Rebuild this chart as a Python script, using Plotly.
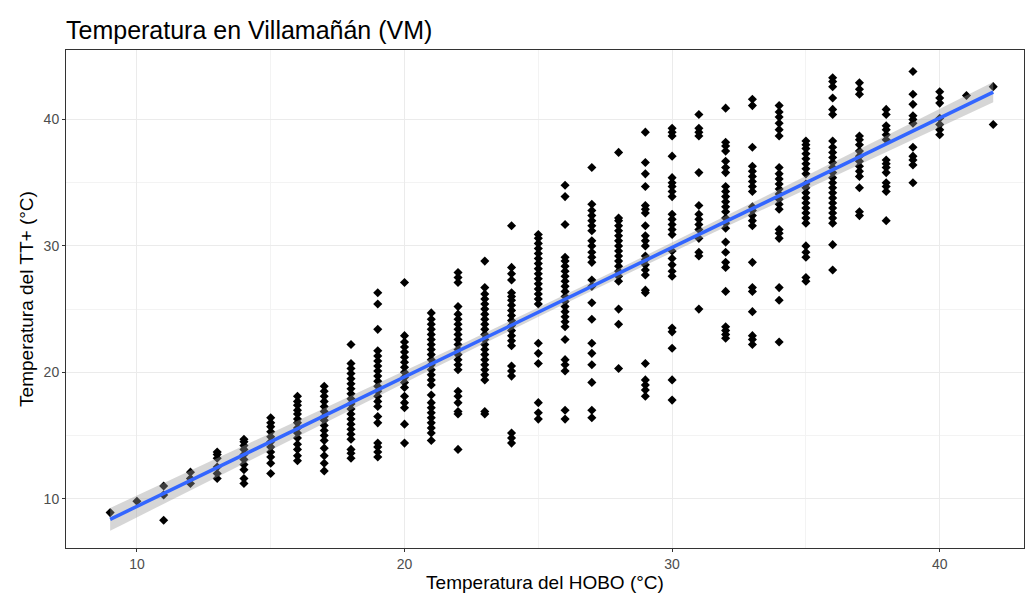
import numpy as np
import plotly.graph_objects as go

# HOBO temperature (x) per column and TT+ temperature (y) values
x09 = [8.9]
x10 = [9.8]
x11 = [8.3, 10.3, 11.0]
x12 = [11.2, 11.6, 12.1]
x13 = [11.6, 12.0, 12.5, 13.2, 13.5, 13.7]
x14 = [11.2, 11.6, 12.3, 12.7, 13.1, 13.5, 13.9, 14.2, 14.5, 14.7]
x15 = [12.0, 12.8, 13.3, 13.7, 14.1, 14.5, 14.9, 15.3, 15.7, 16.0, 16.4]
x16 = [13.0, 13.4, 13.9, 14.3, 14.8, 15.2, 15.6, 16.0, 16.3, 16.7, 17.0, 17.4, 17.7, 18.1]
x17 = [12.2, 12.8, 13.4, 14.0, 14.6, 15.0, 15.4, 15.8, 16.2, 16.5, 16.9, 17.3, 17.7, 18.1, 18.5, 18.9]
x18 = [13.2, 13.6, 13.9, 14.7, 15.1, 15.5, 15.9, 16.3, 16.7, 17.1, 17.5, 17.9, 18.3, 18.7, 19.1, 19.5, 19.9, 20.3, 20.7, 22.2]
x19 = [13.3, 13.7, 14.1, 14.4, 16.0, 16.5, 17.3, 17.7, 18.1, 18.5, 18.9, 19.3, 19.7, 20.1, 20.5, 20.9, 21.3, 21.7, 23.4, 25.4, 26.3]
x20 = [14.4, 15.9, 17.2, 17.6, 18.1, 18.8, 19.2, 19.6, 20.0, 20.4, 20.8, 21.2, 21.6, 22.0, 22.4, 22.9, 27.1]
x21 = [14.6, 15.2, 15.6, 16.0, 16.4, 16.8, 17.2, 17.6, 18.2, 19.0, 19.4, 19.8, 20.2, 20.6, 21.0, 21.4, 21.8, 22.2, 22.6, 23.0, 23.4, 23.8, 24.2, 24.7]
x22 = [13.9, 16.7, 16.9, 17.6, 18.1, 18.5, 20.2, 20.6, 21.0, 21.4, 21.8, 22.2, 22.6, 23.0, 23.4, 23.8, 24.2, 24.6, 25.2, 27.1, 27.5, 27.9]
x23 = [16.7, 16.9, 19.4, 19.8, 20.2, 20.6, 21.0, 21.4, 21.8, 22.2, 22.6, 23.0, 23.4, 23.8, 24.2, 24.6, 25.0, 25.4, 25.8, 26.2, 26.7, 28.8]
x24 = [14.4, 14.8, 15.2, 19.7, 20.1, 20.5, 22.1, 22.5, 22.9, 23.3, 23.7, 24.1, 24.5, 24.9, 25.3, 25.7, 26.0, 26.3, 27.3, 27.8, 28.3, 31.6]
x25 = [16.3, 16.8, 17.6, 20.7, 21.5, 22.3, 25.4, 25.8, 26.2, 26.6, 27.0, 27.4, 27.8, 28.2, 28.6, 29.0, 29.4, 29.8, 30.2, 30.6, 30.9]
x26 = [16.3, 17.0, 20.1, 20.6, 21.0, 22.6, 23.6, 24.0, 24.4, 24.8, 25.2, 25.6, 26.0, 26.4, 26.8, 27.2, 27.6, 28.0, 28.4, 28.8, 29.1, 31.7, 33.9, 34.8]
x27 = [16.4, 17.0, 19.2, 20.6, 21.5, 22.3, 24.2, 25.5, 26.8, 27.3, 28.7, 29.1, 29.5, 30.0, 30.4, 31.2, 31.6, 32.0, 32.4, 32.8, 33.3, 36.2]
x28 = [20.3, 23.8, 25.0, 27.2, 27.6, 28.0, 28.4, 28.8, 29.2, 29.6, 30.0, 30.4, 30.8, 31.2, 31.6, 32.0, 32.2, 37.4]
x29 = [18.1, 18.6, 19.0, 19.4, 20.7, 26.3, 26.5, 27.7, 28.1, 28.5, 28.9, 29.2, 30.0, 30.4, 30.8, 31.6, 32.6, 32.9, 33.2, 34.7, 35.7, 36.6, 39.0]
x30 = [17.8, 19.4, 21.9, 23.2, 23.5, 27.6, 28.0, 28.5, 29.0, 29.6, 30.9, 31.3, 31.7, 32.1, 32.5, 33.9, 34.3, 34.7, 35.0, 35.4, 37.1, 38.7, 39.0, 39.3]
x31 = [25.0, 29.2, 29.5, 30.6, 31.3, 31.7, 32.1, 32.5, 33.2, 35.8, 38.7, 39.0, 39.3, 40.4]
x32 = [22.7, 23.0, 23.3, 23.6, 26.4, 28.3, 28.7, 29.5, 30.3, 31.4, 31.8, 32.2, 32.7, 33.1, 33.5, 33.9, 34.3, 34.7, 35.8, 36.2, 36.7, 37.5, 37.9, 38.2, 40.9]
x33 = [22.2, 22.6, 22.9, 24.8, 26.4, 26.7, 28.7, 31.6, 32.0, 32.4, 32.8, 33.1, 34.3, 34.7, 35.1, 35.5, 35.9, 36.3, 37.8, 41.1, 41.6]
x34 = [22.4, 25.7, 26.7, 30.6, 31.0, 31.3, 32.9, 33.3, 33.7, 34.1, 34.5, 34.9, 35.3, 35.7, 36.2, 38.7, 39.2, 39.7, 40.2, 40.6, 41.1]
x35 = [27.2, 27.5, 29.1, 29.5, 30.0, 31.8, 32.2, 32.6, 33.0, 33.4, 33.8, 34.2, 34.6, 34.9, 35.7, 36.1, 36.5, 36.9, 37.3, 37.7, 38.0, 38.3]
x36 = [28.1, 30.1, 31.8, 32.2, 32.6, 33.0, 33.4, 33.8, 34.2, 34.6, 35.0, 35.4, 35.8, 36.2, 36.6, 37.0, 37.4, 37.8, 38.3, 40.4, 40.8, 41.7, 42.6, 43.0, 43.3]
x37 = [32.4, 32.7, 34.6, 35.5, 35.9, 36.3, 36.7, 37.1, 37.5, 38.0, 38.4, 38.7, 42.0, 42.4, 42.9]
x38 = [32.0, 34.3, 34.7, 35.0, 35.8, 36.2, 36.5, 36.8, 38.4, 38.8, 39.2, 39.5, 40.4, 40.8]
x39 = [35.0, 36.4, 36.8, 37.1, 37.8, 39.7, 40.0, 40.3, 41.2, 42.0, 43.8]
x40 = [38.8, 39.2, 39.6, 40.1, 41.3, 41.7, 42.2]
x41 = [41.9]
x42 = [39.6, 42.6]

hobo_levels = list(range(9, 43))
tt_columns = [x09, x10, x11, x12, x13, x14, x15, x16, x17, x18, x19, x20, x21, x22,
              x23, x24, x25, x26, x27, x28, x29, x30, x31, x32, x33, x34, x35, x36,
              x37, x38, x39, x40, x41, x42]

x_ticks = [10, 20, 30, 40]
y_ticks = [10, 20, 30, 40]

hobo = []
tt = []
for h, col in zip(hobo_levels, tt_columns):
    hobo += [h] * len(col)
    tt += col
hobo = np.array(hobo, dtype=float)
tt = np.array(tt, dtype=float)

# linear model with 95% confidence band (like geom_smooth(method = "lm"))
slope, intercept = np.polyfit(hobo, tt, 1)
n = len(hobo)
resid = tt - (slope * hobo + intercept)
s = np.sqrt(np.sum(resid ** 2) / (n - 2))
xm = hobo.mean()
sxx = np.sum((hobo - xm) ** 2)
xs = np.linspace(hobo.min(), hobo.max(), 80)
ys = slope * xs + intercept
se = s * np.sqrt(1.0 / n + (xs - xm) ** 2 / sxx)
upper = ys + 1.97 * se
lower = ys - 1.97 * se

FONT = "Liberation Sans, Arial, sans-serif"

fig = go.Figure()
fig.add_trace(go.Scatter(x=hobo, y=tt, mode="markers",
                         marker=dict(symbol="diamond", size=7, color="black", line=dict(width=0)),
                         showlegend=False, hoverinfo="x+y"))
fig.add_trace(go.Scatter(x=np.concatenate([xs, xs[::-1]]), y=np.concatenate([upper, lower[::-1]]),
                         fill="toself", fillcolor="rgba(153,153,153,0.4)", line=dict(width=0),
                         mode="lines", showlegend=False, hoverinfo="skip"))
fig.add_trace(go.Scatter(x=xs, y=ys, mode="lines", line=dict(color="#3366FF", width=3.5),
                         showlegend=False))

axis_common = dict(
    showgrid=True, gridcolor="#EBEBEB", gridwidth=1,
    minor=dict(showgrid=True, gridcolor="#F3F3F3", gridwidth=0.6),
    zeroline=False, showline=True, linecolor="#333333", linewidth=1, mirror=True,
    ticks="outside", ticklen=3, tickcolor="#333333", tickwidth=1,
    tickfont=dict(family=FONT, size=14, color="#4D4D4D"),
    title_font=dict(family=FONT, size=19, color="black"),
)

fig.update_layout(
    width=1027, height=606,
    margin=dict(l=66, r=3, t=50, b=58),
    paper_bgcolor="white", plot_bgcolor="white",
    title=dict(text="Temperatura en Villamañán (VM)", x=66 / 1027, xanchor="left",
               y=1 - 30 / 606, yanchor="middle",
               font=dict(family=FONT, size=25, color="black")),
    xaxis=dict(axis_common, range=[7.35, 43.15], tickvals=x_ticks,
               title=dict(text="Temperatura del HOBO (°C)", standoff=4)),
    yaxis=dict(axis_common, range=[6.1, 45.5], tickvals=y_ticks,
               title=dict(text="Temperatura del TT+ (°C)", standoff=4)),
)
fig.update_xaxes(minor=dict(tickvals=[15, 25, 35], ticks=""))
fig.update_yaxes(minor=dict(tickvals=[15, 25, 35], ticks=""))

fig.write_html("out.html")
